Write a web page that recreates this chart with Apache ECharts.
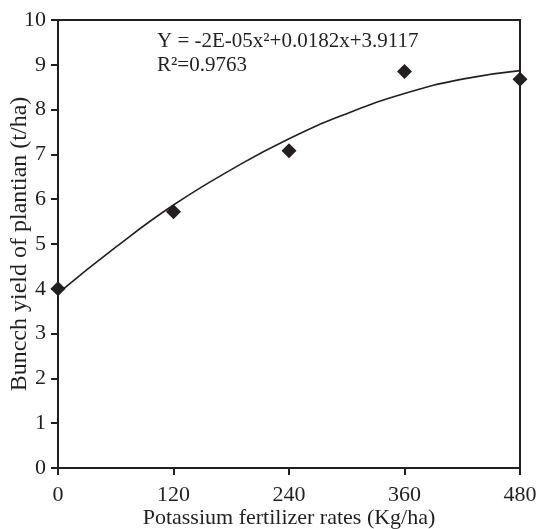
<!DOCTYPE html>
<html>
<head>
<meta charset="utf-8">
<title>Bunch yield vs potassium rate</title>
<script src="https://cdn.jsdelivr.net/npm/echarts@6/dist/echarts.min.js"></script>
<style>
  html, body { margin: 0; padding: 0; background: #fff; }
  #chart { width: 536px; height: 529px; }
</style>
</head>
<body>
<div id="chart"></div>
<script>
// Potassium fertilizer rates (kg/ha) and observed bunch yield (t/ha)
const rates = [0, 120, 240, 360, 480];
const yields = [4.00, 5.72, 7.08, 8.85, 8.68];

// Quadratic trend curve, sampled every 60 kg/ha
const trendRates = [0, 60, 120, 180, 240, 300, 360, 420, 480];
const trendYields = [3.90, 4.93, 5.87, 6.66, 7.35, 7.91, 8.36, 8.68, 8.87];

// Tick labels
const xTicks = [0, 120, 240, 360, 480];
const yTicks = [0, 1, 2, 3, 4, 5, 6, 7, 8, 9, 10];

const ink = '#231f20';
const serif = '"Liberation Serif", "Times New Roman", serif';

const chart = echarts.init(document.getElementById('chart'), null, { renderer: 'canvas' });

chart.setOption({
  animation: false,
  backgroundColor: '#fff',
  textStyle: { fontFamily: serif, color: ink },
  grid: {
    left: 58, right: 16, top: 20, bottom: 61,
    containLabel: false,
    outerBoundsMode: 'none',
    show: true, borderColor: ink, borderWidth: 2, backgroundColor: 'transparent'
  },
  xAxis: {
    type: 'value',
    min: xTicks[0], max: xTicks[xTicks.length - 1], interval: 120,
    name: 'Potassium fertilizer rates (Kg/ha)',
    nameLocation: 'middle', nameGap: 39, nameMoveOverlap: false,
    nameTextStyle: { fontFamily: serif, fontSize: 22, color: ink },
    axisLine: { show: true, lineStyle: { color: ink, width: 2 } },
    axisTick: { show: true, inside: false, length: 7, lineStyle: { color: ink, width: 2 } },
    axisLabel: { fontFamily: serif, fontSize: 22, color: ink, margin: 16 },
    splitLine: { show: false }
  },
  yAxis: {
    type: 'value',
    min: yTicks[0], max: yTicks[yTicks.length - 1], interval: 1,
    name: 'Buncch yield of plantian (t/ha)',
    nameLocation: 'middle', nameGap: 26, nameMoveOverlap: false,
    nameTextStyle: { fontFamily: serif, fontSize: 24, color: ink },
    axisLine: { show: true, lineStyle: { color: ink, width: 2 } },
    axisTick: { show: true, inside: false, length: 7, lineStyle: { color: ink, width: 2 } },
    axisLabel: { fontFamily: serif, fontSize: 22, color: ink, margin: 12 },
    splitLine: { show: false }
  },
  graphic: [
    {
      type: 'text', left: 157, top: 31,
      style: { text: 'Y = -2E-05x\u00B2+0.0182x+3.9117', font: '21px ' + serif, fill: ink }
    },
    {
      type: 'text', left: 157, top: 55,
      style: { text: 'R\u00B2=0.9763', font: '21px ' + serif, fill: ink }
    }
  ],
  series: [
    {
      name: 'Trend',
      type: 'line',
      data: trendRates.map((r, i) => [r, trendYields[i]]),
      smooth: true,
      showSymbol: false,
      lineStyle: { color: ink, width: 1.6 },
      z: 2
    },
    {
      name: 'Yield',
      type: 'scatter',
      data: rates.map((r, i) => [r, yields[i]]),
      symbol: 'diamond',
      symbolSize: 15,
      itemStyle: { color: ink, opacity: 1 },
      clip: false,
      z: 3
    }
  ]
});
</script>
</body>
</html>
